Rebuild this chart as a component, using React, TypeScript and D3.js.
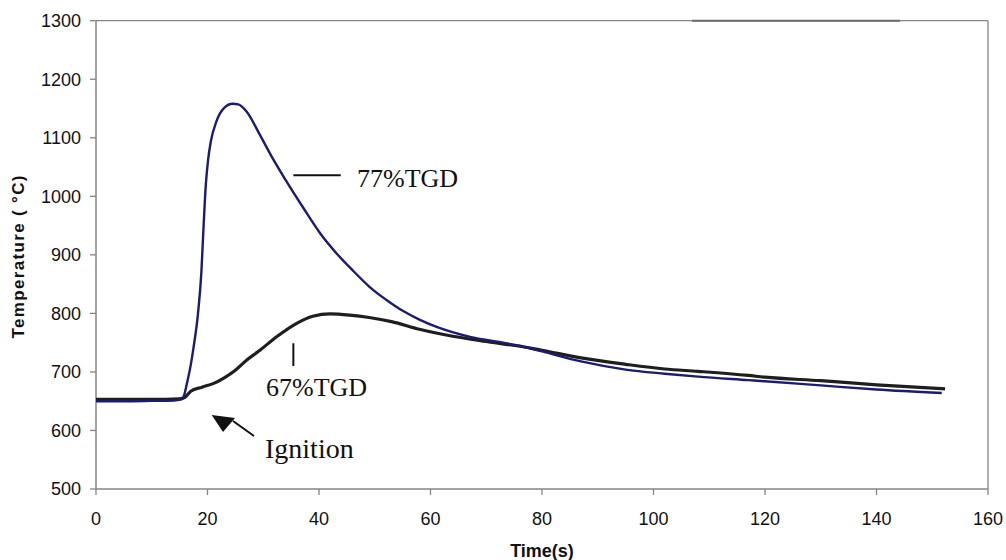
import React from "react";
import * as d3 from "d3";

// 77%TGD (blue) — time (s), temperature (°C)
const tgd77Time = [0, 5, 10, 14, 15.3, 15.8, 16.3, 17, 17.5, 18.3, 18.9, 19.3, 19.7, 20.1, 20.6, 21.6, 23, 24.5, 25.5, 27, 29.4, 31.8, 34, 37.2, 40.2, 43.2, 46.2, 49.1, 52.1, 55.1, 58.1, 61.1, 67.1, 73, 76.6, 80, 87, 95, 102, 108, 117, 120, 130, 140, 151.7];
const tgd77Temp = [650, 650, 650.5, 651, 653, 660, 680, 712, 742, 800, 870, 950, 1020, 1062, 1094, 1128, 1151, 1158, 1157, 1145, 1105, 1063, 1028, 980, 937, 902, 872, 845, 823, 804, 789, 777, 760, 750, 743, 735, 718, 704, 697, 692, 686, 684, 677, 670, 664];

// 67%TGD (black)
const tgd67Time = [0, 5, 10, 15, 16, 17, 19, 21, 23, 25, 27, 29.4, 32.4, 36, 38.9, 42, 45.5, 49, 53, 58, 64, 70, 76.6, 80, 87, 95, 102, 108, 117, 120, 130, 140, 152.3];
const tgd67Temp = [653, 653, 653, 654, 657, 667, 674, 680, 690, 703, 720, 737, 760, 783, 795, 799, 797, 793, 786, 773, 761, 752, 743, 737, 724, 713, 705, 701, 694, 691, 685, 678, 671];

const xTicks = [0, 20, 40, 60, 80, 100, 120, 140, 160];
const yTicks = [500, 600, 700, 800, 900, 1000, 1100, 1200, 1300];

const W = 1006;
const H = 560;

export default function App() {
  const x = d3.scaleLinear().domain([0, 160]).range([96, 988]);
  const y = d3.scaleLinear().domain([500, 1300]).range([489, 20.7]);

  const blue = tgd77Time.map((t, i) => [t, tgd77Temp[i]] as [number, number]);
  const black = tgd67Time.map((t, i) => [t, tgd67Temp[i]] as [number, number]);

  const line = d3
    .line<[number, number]>()
    .x((d) => x(d[0]))
    .y((d) => y(d[1]))
    .curve(d3.curveMonotoneX);

  const axisColor = "#858585";
  const sans = "Arial, 'Liberation Sans', sans-serif";
  const serif = "'Times New Roman', 'Liberation Serif', serif";

  return (
    <svg
      width={W}
      height={H}
      style={{ position: "absolute", left: 0, top: 0, background: "#fff" }}
    >
      {/* plot frame: top & right */}
      <line x1={x(0)} x2={x(160)} y1={y(1300)} y2={y(1300)} stroke={axisColor} strokeWidth={1.3} />
      <line x1={692} x2={900} y1={y(1300)} y2={y(1300)} stroke="#6a6a6a" strokeWidth={2} />
      <line x1={x(160)} x2={x(160)} y1={y(1300)} y2={y(500)} stroke={axisColor} strokeWidth={1.3} />

      {/* y axis */}
      <line x1={x(0)} x2={x(0)} y1={y(1300)} y2={y(500)} stroke={axisColor} strokeWidth={1.5} />
      {yTicks.map((v) => (
        <g key={"y" + v}>
          <line x1={x(0) - 6} x2={x(0)} y1={y(v)} y2={y(v)} stroke={axisColor} strokeWidth={1.3} />
          <text x={81} y={y(v) + 6.3} textAnchor="end" fontFamily={sans} fontSize={18} fill="#111">
            {v}
          </text>
        </g>
      ))}

      {/* x axis */}
      <line x1={x(0)} x2={x(160)} y1={y(500)} y2={y(500)} stroke={axisColor} strokeWidth={1.5} />
      {xTicks.map((t) => (
        <g key={"x" + t}>
          <line x1={x(t)} x2={x(t)} y1={y(500)} y2={y(500) + 6} stroke={axisColor} strokeWidth={1.3} />
          <text x={x(t)} y={525} textAnchor="middle" fontFamily={sans} fontSize={18} fill="#111">
            {t}
          </text>
        </g>
      ))}

      {/* axis titles */}
      <text x={542} y={557} textAnchor="middle" fontFamily={sans} fontSize={18} fontWeight="bold" fill="#111">
        Time(s)
      </text>
      <text
        transform={`translate(24, 257) rotate(-90)`}
        textAnchor="middle"
        fontFamily={sans}
        fontSize={17}
        fontWeight="bold"
        fill="#111"
        textLength={163}
        lengthAdjust="spacing"
      >
        Temperature ( °C)
      </text>

      {/* series */}
      <path d={line(black) || ""} fill="none" stroke="#1e1e1e" strokeWidth={3.2} strokeLinejoin="round" />
      <path d={line(blue) || ""} fill="none" stroke="#1b1b72" strokeWidth={2.4} strokeLinejoin="round" />

      {/* 77%TGD annotation */}
      <line x1={x(35.4)} x2={x(43.9)} y1={y(1036)} y2={y(1036)} stroke="#111" strokeWidth={2} />
      <text x={357} y={187} fontFamily={serif} fontSize={26} fill="#111">
        77%TGD
      </text>

      {/* 67%TGD annotation */}
      <line x1={x(35.4)} x2={x(35.4)} y1={y(749)} y2={y(710)} stroke="#111" strokeWidth={2} />
      <text x={266} y={396} fontFamily={serif} fontSize={26} fill="#111">
        67%TGD
      </text>

      {/* Ignition annotation */}
      <polygon points="211.7,415 235,418 223,432" fill="#111" />
      <line x1={233} x2={254} y1={421} y2={436} stroke="#111" strokeWidth={2} />
      <text x={265} y={458} fontFamily={serif} fontSize={28} fill="#111">
        Ignition
      </text>
    </svg>
  );
}
